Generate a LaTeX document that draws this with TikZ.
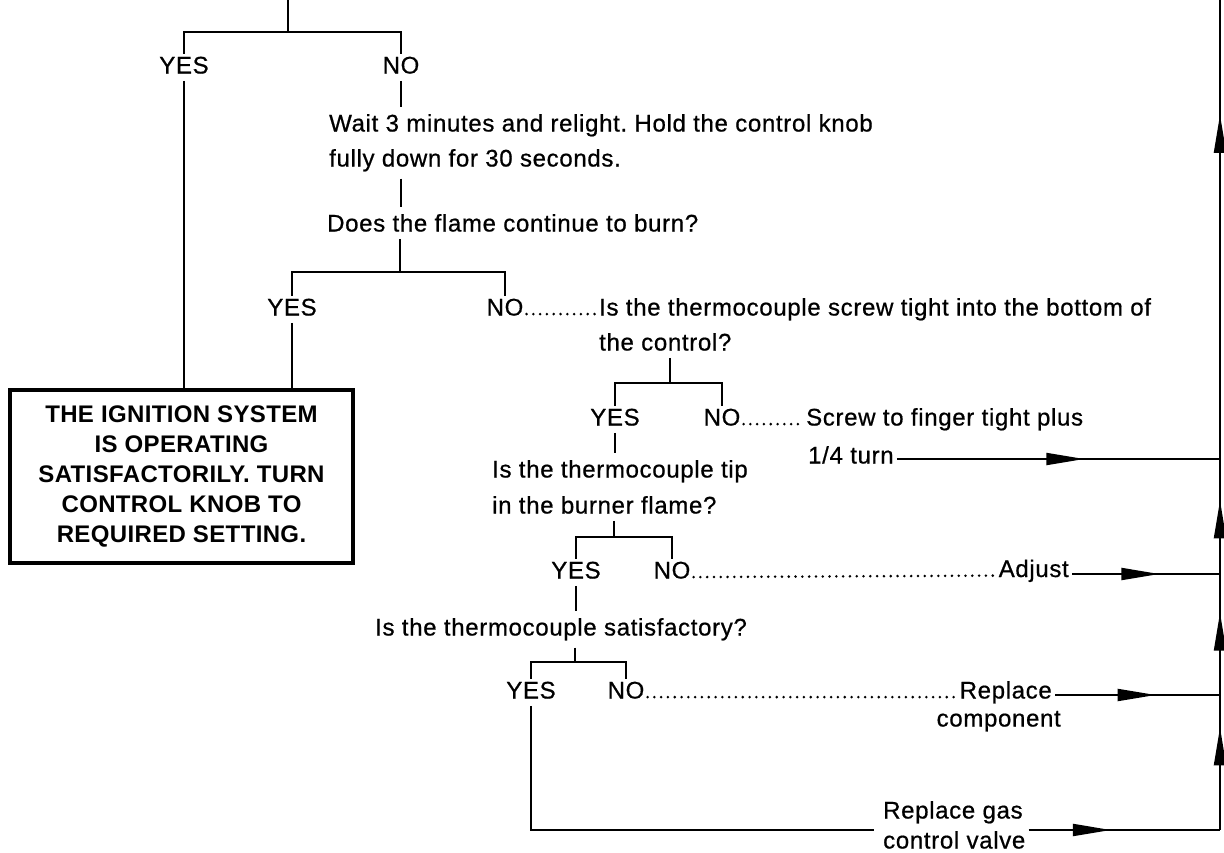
\documentclass[tikz,border=0pt]{standalone}
\usepackage{fontspec}
\setmainfont[LetterSpace=2.8,FakeBold=0.7]{Liberation Sans}
\newfontfamily\boxfont[LetterSpace=1.5]{Liberation Sans Bold}
\usetikzlibrary{arrows.meta,decorations.markings}
\frenchspacing
\begin{document}
\begin{tikzpicture}[x=1pt,y=-1pt,
  txt/.style={inner sep=3pt, font=\fontsize{24}{30}\selectfont},
  ln/.style={line width=2pt},
  stem/.style={ln, shorten <=4pt, shorten >=4pt},
  leader/.style={line width=2.8pt, line cap=round, dash pattern=on 0pt off 6.8pt, shorten <=0pt, shorten >=1pt},
  midarrow/.style={postaction={decorate}, decoration={markings, mark=at position #1 with {\arrow{Triangle[length=38pt,width=12pt]}}}},
  endbox/.style={draw, line width=4.5pt, minimum width=343pt, minimum height=173pt, align=center, inner sep=0pt, font=\boxfont\fontsize{24}{30}\selectfont}
]
\useasboundingbox[fill=white] (0,0) rectangle (1224,852);

% junctions and right-hand return line points
\coordinate (t0) at (288,0);
\coordinate (j1) at (288,32);
\coordinate (j2) at (400,272);
\coordinate (j3) at (670,383);
\coordinate (j4) at (614,537);
\coordinate (j5) at (575,662);
\coordinate (rtop) at (1220,0);
\coordinate (r1) at (1220,459);
\coordinate (r2) at (1220,574);
\coordinate (r3) at (1220,695);
\coordinate (rb) at (1220,830);

% text nodes
\node[txt, anchor=base] (yes1) at (184,73.5) {YES};
\node[txt, anchor=base] (no1) at (401,73.5) {NO};
\node[txt, anchor=base west] (wait1) at (326,131.5) {Wait 3 minutes and relight. Hold the control knob};
\node[txt, anchor=base west] (wait2) at (326,166.5) {fully down for 30 seconds.};
\node[txt, anchor=base west] (flame) at (324,231.5) {Does the flame continue to burn?};
\node[txt, anchor=base] (yes2) at (292,315.5) {YES};
\node[txt, anchor=base] (no2) at (505,315.5) {NO};
\node[txt, anchor=base west] (scq1) at (596,315.5) {Is the thermocouple screw tight into the bottom of};
\node[txt, anchor=base west] (scq2) at (596,350.5) {the control?};
\node[txt, anchor=base] (yes3) at (615,425.5) {YES};
\node[txt, anchor=base] (no3) at (722,425.5) {NO};
\node[txt, anchor=base west] (scr1) at (803,425.5) {Screw to finger tight plus};
\node[txt, anchor=base west] (scr2) at (805,463.5) {1/4 turn};
\node[txt, anchor=base west] (tip1) at (489,477.5) {Is the thermocouple tip};
\node[txt, anchor=base west] (tip2) at (489,513.5) {in the burner flame?};
\node[txt, anchor=base] (yes4) at (576,578.5) {YES};
\node[txt, anchor=base] (no4) at (672,578.5) {NO};
\node[txt, anchor=base east] (adj) at (1072,577) {Adjust};
\node[txt, anchor=base west] (sat) at (372,635.5) {Is the thermocouple satisfactory?};
\node[txt, anchor=base] (yes5) at (531,698.5) {YES};
\node[txt, anchor=base] (no5) at (626,698.5) {NO};
\node[txt, anchor=base east] (rep1) at (1055,698.5) {Replace};
\node[txt, anchor=base east] (rep2) at (1064,726.5) {component};
\node[txt, anchor=base west] (gas1) at (880,818.5) {Replace gas};
\node[txt, anchor=base west] (gas2) at (880,848.5) {control valve};

\node[endbox] (box) at (181.5,476.5) {THE IGNITION SYSTEM\\IS OPERATING\\SATISFACTORILY. TURN\\CONTROL KNOB TO\\REQUIRED SETTING.};

% tree connectors
\draw[ln] (t0) -- (j1);
\draw[ln] (yes1.north) |- (j1) -| (no1.north);
\draw[stem, shorten >=0pt] (yes1.south) -- (yes1.south |- box.north);
\draw[stem] (no1.south) -- (no1.south |- wait1.north);
\draw[stem] (no1.south |- wait2.south) -- (no1.south |- flame.north);
\draw[ln, shorten <=4pt] (j2 |- flame.south) -- (j2);
\draw[ln] (yes2.north) |- (j2) -| (no2.north);
\draw[stem, shorten >=0pt] (yes2.south) -- (yes2.south |- box.north);
\draw[leader] ([yshift=1.4pt]no2.base east) -- ([yshift=1.4pt]scq1.base west);
\draw[ln, shorten <=4pt] (j3 |- scq2.south) -- (j3);
\draw[ln] (yes3.north) |- (j3) -| (no3.north);
\draw[leader] ([yshift=1.4pt]no3.base east) -- ([yshift=1.4pt]scr1.base west);
\draw[stem] (yes3.south) -- (yes3.south |- tip1.north);
\draw[ln, shorten <=4pt] (j4 |- tip2.south) -- (j4);
\draw[ln] (yes4.north) |- (j4) -| (no4.north);
\draw[leader] ([yshift=1.4pt]no4.base east) -- ([yshift=1.4pt]adj.base west);
\draw[stem] (yes4.south) -- (yes4.south |- sat.north);
\draw[ln, shorten <=4pt] (j5 |- sat.south) -- (j5);
\draw[ln] (yes5.north) |- (j5) -| (no5.north);
\draw[leader] ([yshift=1.4pt]no5.base east) -- ([yshift=1.4pt]rep1.base west);

% return lines with arrows
\draw[ln, midarrow=0.58] (scr2.east |- r1) -- (r1);
\draw[ln, midarrow=0.59] (adj.east |- r2) -- (r2);
\draw[ln, midarrow=0.61] (rep1.east |- r3) -- (r3);
\draw[ln, shorten <=4pt] (yes5.south) -- (yes5.south |- rb) -- ([xshift=-6pt]rb -| gas2.west);
\draw[ln, midarrow=0.43] (rb -| gas2.east) -- (rb);
\draw[ln, midarrow=0.76] (rb) -- (r3);
\draw[ln, midarrow=0.68] (r3) -- (r2);
\draw[ln, midarrow=0.64] (r2) -- (r1);
\draw[ln, midarrow=0.75] (r1) -- (rtop);
\end{tikzpicture}
\end{document}
